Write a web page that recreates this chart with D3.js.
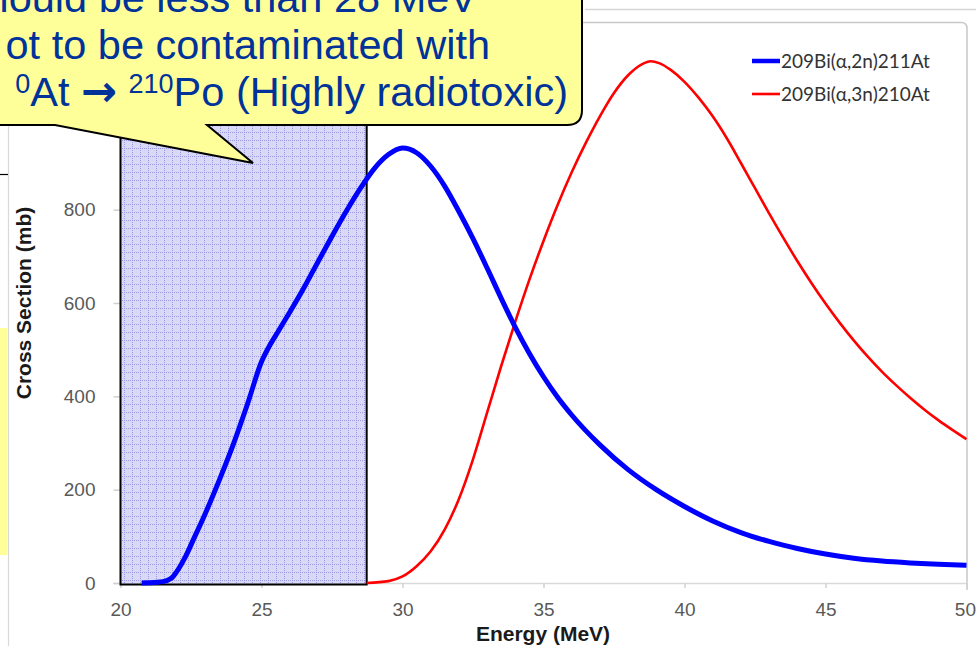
<!DOCTYPE html>
<html><head><meta charset="utf-8">
<script src="https://cdn.jsdelivr.net/npm/d3@7"></script>
<style>body{margin:0;background:#fff;overflow:hidden}svg{display:block}</style>
</head><body><svg id="c" width="976" height="646"></svg>
<script>
// ---------- data ----------
const xTicks = [20, 25, 30, 35, 40, 45, 50];
const yTicks = [0, 200, 400, 600, 800];
const yMax = 1200;
const seriesNames = ["209Bi(α,2n)211At", "209Bi(α,3n)210At"];
const seriesColors = ["#0000ff", "#ff0000"];
const xTitle = "Energy (MeV)";
const yTitle = "Cross Section (mb)";

const blueE = [20.75, 21.0, 21.5, 21.8, 22.0, 22.3, 22.6, 23.0, 23.5, 24.0, 24.5, 25.0, 25.3, 25.6, 26.0, 26.5, 27.0, 27.5, 28.0, 28.5, 29.0, 29.5, 30.0, 30.5, 31.0, 31.5, 32.0, 32.5, 33.0, 33.5, 34.0, 34.5, 35.0, 35.5, 36.0, 37.0, 38.0, 39.0, 40.0, 41.0, 42.0, 43.0, 44.0, 45.0, 46.0, 47.0, 48.0, 49.0, 50.0];
const blueV = [0, 0.5, 3, 10, 25, 56, 95, 148, 220, 297, 383, 474, 510, 540, 580, 632, 688, 743, 796, 845, 888, 918, 932, 922, 893, 850, 796, 738, 675, 610, 548, 492, 442, 398, 360, 296, 243, 200, 164, 133, 108, 89, 74, 62, 53, 47, 43, 40, 38];

const redE = [28.73, 29.5, 30.0, 30.5, 31.0, 31.5, 32.0, 32.5, 33.0, 33.5, 34.0, 34.5, 35.0, 35.5, 36.0, 36.5, 37.0, 37.5, 38.0, 38.5, 38.8, 39.1, 39.5, 40.0, 40.5, 41.0, 41.5, 42.0, 42.5, 43.0, 43.5, 44.0, 44.5, 45.0, 45.5, 46.0, 46.5, 47.0, 47.5, 48.0, 48.5, 49.0, 49.5, 50.0];
const redV = [0, 4, 14, 36, 68, 115, 180, 265, 365, 465, 560, 650, 733, 810, 880, 943, 1000, 1050, 1088, 1112, 1118, 1114, 1100, 1074, 1040, 1000, 953, 900, 846, 792, 740, 690, 643, 599, 558, 520, 485, 453, 424, 397, 372, 349, 328, 308];

const highlightRange = [20, 28.73];
const calloutLine1 = "hould be less than 28 MeV";
const calloutLine2 = "ot to be contaminated with";
const calloutLine3 = [["0", "sup"], ["At ", ""], ["→", "arrow"], [" ", ""], ["210", "sup"], ["Po (Highly radiotoxic)", ""]];

// ---------- drawing ----------
const svg = d3.select("#c");
const x = d3.scaleLinear().domain([20, 50]).range([120.5, 966.5]);
const y = d3.scaleLinear().domain([0, yMax]).range([583, 23]);

// dotted fill pattern for the highlighted energy window
const defs = svg.append("defs");
const pat = defs.append("pattern").attr("id", "dots").attr("patternUnits", "userSpaceOnUse")
  .attr("width", 8).attr("height", 8);
pat.append("rect").attr("width", 8).attr("height", 8).attr("fill", "#d9d9f7");
for (let i = 0; i < 8; i += 2) {
  pat.append("rect").attr("x", i).attr("y", 4).attr("width", 1).attr("height", 1).attr("fill", "#9999e6");
  pat.append("rect").attr("x", 4).attr("y", i).attr("width", 1).attr("height", 1).attr("fill", "#9999e6");
}

// slide fragments on left / top
svg.append("line").attr("x1", 585).attr("x2", 976).attr("y1", 9.5).attr("y2", 9.5).attr("stroke", "#d6d6d6").attr("stroke-width", 1.5);
svg.append("line").attr("x1", 8.5).attr("x2", 8.5).attr("y1", 120).attr("y2", 646).attr("stroke", "#d9d9d9").attr("stroke-width", 1.2);
svg.append("line").attr("x1", 0).attr("x2", 8).attr("y1", 174.5).attr("y2", 174.5).attr("stroke", "#000").attr("stroke-width", 1.2);
svg.append("rect").attr("x", 0).attr("y", 328).attr("width", 7.5).attr("height", 227).attr("fill", "#ffff99");

// plot frame
svg.append("path").attr("d", "M0,22.5 H961 Q967,22.5 967,28.5 V590")
  .attr("fill", "none").attr("stroke", "#c8c8c8").attr("stroke-width", 1.5);

// axes
svg.append("line").attr("x1", 113).attr("x2", 967).attr("y1", 583.5).attr("y2", 583.5).attr("stroke", "#d9d9d9").attr("stroke-width", 1.5);
const gx = svg.append("g").attr("transform", "translate(0,583)")
  .call(d3.axisBottom(x).tickValues(xTicks).tickSize(5).tickPadding(15).tickFormat(d3.format("d")));
gx.select(".domain").remove();
const gy = svg.append("g").attr("transform", "translate(120.5,0)")
  .call(d3.axisLeft(y).tickValues(yTicks).tickSize(7).tickPadding(18).tickFormat(d3.format("d")));
gy.select(".domain").remove();
[gx, gy].forEach(g => {
  g.selectAll(".tick line").attr("stroke", "#d0d0d0").attr("stroke-width", 1.5);
  g.selectAll(".tick text").attr("fill", "#595959").style("font-family", "'Liberation Sans', Arial, sans-serif").style("font-size", "19px");
});
gx.selectAll(".tick text").filter(d => d === 50).attr("text-anchor", "end").attr("x", 9);

// highlight rect
svg.append("rect")
  .attr("x", x(highlightRange[0])).attr("y", y(yMax))
  .attr("width", x(highlightRange[1]) - x(highlightRange[0]))
  .attr("height", y(0) + 1.5 - y(yMax))
  .attr("fill", "url(#dots)").attr("stroke", "#000").attr("stroke-width", 2);

// axis titles
svg.append("text").attr("x", 543).attr("y", 641).attr("text-anchor", "middle")
  .style("font-family", "'Liberation Sans', Arial, sans-serif").style("font-weight", "bold").style("font-size", "21px")
  .attr("fill", "#1a1a1a").text(xTitle);
svg.append("text").attr("transform", "translate(31,303) rotate(-90)").attr("text-anchor", "middle")
  .style("font-family", "'Liberation Sans', Arial, sans-serif").style("font-weight", "bold").style("font-size", "21px")
  .attr("fill", "#1a1a1a").text(yTitle);

// series
const line = d3.line().x(d => x(d[0])).y(d => y(d[1])).curve(d3.curveMonotoneX);
const blue = blueE.map((e, i) => [e, blueV[i]]);
const red = redE.map((e, i) => [e, redV[i]]);
svg.append("path").datum(red).attr("d", line).attr("fill", "none").attr("stroke", seriesColors[1]).attr("stroke-width", 2.6);
svg.append("path").datum(blue).attr("d", line).attr("fill", "none").attr("stroke", seriesColors[0]).attr("stroke-width", 5);

// legend
const lg = svg.append("g");
seriesNames.forEach((n, i) => {
  const yy = 61 + i * 33;
  lg.append("line").attr("x1", 752).attr("x2", 780).attr("y1", yy).attr("y2", yy)
    .attr("stroke", seriesColors[i]).attr("stroke-width", i === 0 ? 4.5 : 2.6);
  lg.append("text").attr("x", 781).attr("y", yy).attr("dy", "0.35em")
    .style("font-family", "Lato, 'Open Sans', sans-serif").style("font-size", "19px")
    .attr("fill", "#333").text(n);
});

// callout
const cg = svg.append("g");
cg.append("path")
  .attr("d", "M-30,-30 H567 Q582,-30 582,-15 V110 Q582,125 567,125 H207 L253,163 L55,125 H-30 Z")
  .attr("fill", "#ffff99").attr("stroke", "#000").attr("stroke-width", 2).attr("stroke-linejoin", "miter");
const tStyle = t => t.style("font-family", "'Liberation Sans', Arial, sans-serif").style("font-size", "41.5px").attr("fill", "#003399");
tStyle(cg.append("text").attr("x", 477).attr("y", 12).attr("text-anchor", "end").text(calloutLine1));
tStyle(cg.append("text").attr("x", 490).attr("y", 59).attr("text-anchor", "end").text(calloutLine2));
const t3 = tStyle(cg.append("text").attr("x", 568).attr("y", 106).attr("text-anchor", "end"));
calloutLine3.forEach(([s, k]) => {
  const ts = t3.append("tspan").text(s);
  if (k === "sup") ts.attr("baseline-shift", "13px").style("font-size", "27px");
  if (k === "arrow") ts.style("font-weight", "bold").style("font-family", "'DejaVu Sans', sans-serif").style("font-size", "43px");
});
</script></body></html>
